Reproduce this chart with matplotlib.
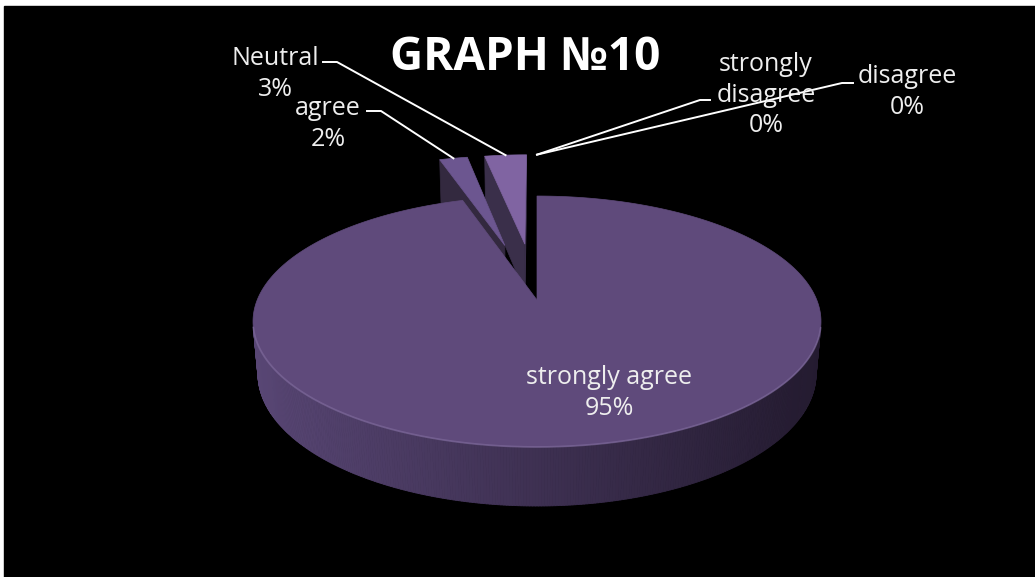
import numpy as np
import matplotlib
matplotlib.use("Agg")
import matplotlib.pyplot as plt
from matplotlib.patches import Polygon, Rectangle
from matplotlib.collections import PolyCollection

# ---- data -------------------------------------------------------------
categories = ["strongly agree", "agree", "Neutral", "strongly disagree", "disagree"]
label_names = ["strongly agree", "agree", "Neutral", "strongly\ndisagree", "disagree"]
values = [95, 2, 3, 0, 0]
explode = [0.0, 0.5, 0.5, 0.5, 0.5]
title = "GRAPH \u211610"

# ---- style ------------------------------------------------------------
top_colors = ["#5F4A7B", "#6C5690", "#8064A2", "#8064A2", "#8064A2"]
wall_colors = ["#3A2E4C", "#33293F", "#3A2F4A", "#3A2F4A", "#3A2F4A"]
side_left = np.array([88, 70, 116]) / 255
side_right = np.array([36, 27, 48]) / 255
text_color = "#EEEEEE"
FONT = ["Open Sans", "DejaVu Sans"]

# label layout: text centre, leader elbow (start, bend) in pixels
label_pos = [(609, 393), (328, 124), (275, 74), (766, 95), (907, 92)]
leader_elbow = [None, ((367, 111), (381, 111)), ((323, 62), (337, 62)),
                ((710, 100), (700, 100)), ((853, 83), (842, 83))]

W, H = 1035, 577
fig = plt.figure(figsize=(W / 100, H / 100), dpi=100, facecolor="white")
ax = fig.add_axes([0, 0, 1, 1])
ax.set_xlim(0, W)
ax.set_ylim(H, 0)
ax.axis("off")
ax.add_patch(Rectangle((4, 6), W, H, color="black", zorder=0))

# ---- perspective camera for the tilted pie ----------------------------
CX, CY = 537, 300
SIN_E, COS_E = 0.4353, 0.9003
DIST = 5.256
FOCAL = 1470.6
THICK = 0.2083
CAM = np.array([0.0, -DIST * COS_E, DIST * SIN_E])


def project(x, y, z):
    x = np.asarray(x, float)
    y = np.asarray(y, float)
    z = np.asarray(z, float) + 0 * x
    depth = DIST + y * COS_E - z * SIN_E
    up = y * SIN_E + z * COS_E
    return CX + FOCAL * x / depth, CY - FOCAL * up / depth


def facing(normal, point):
    return np.dot(normal, CAM - point) > 0


total = float(sum(values))
fractions = [v / total for v in values]
starts = np.concatenate([[0.0], np.cumsum(fractions)[:-1]]) * 2 * np.pi

slices = []
for i, frac in enumerate(fractions):
    th1 = starts[i]
    th2 = th1 + frac * 2 * np.pi
    mid = 0.5 * (th1 + th2)
    off = explode[i] * np.array([np.sin(mid), np.cos(mid)])
    slices.append((i, th1, th2, off))


# farther slices are painted first
def slice_depth(s):
    i, th1, th2, off = s
    mid = 0.5 * (th1 + th2)
    return off[1] + 0.5 * np.cos(mid)


z = 1
for i, th1, th2, off in sorted(slices, key=slice_depth, reverse=True):
    if th2 - th1 <= 0:
        continue
    ox, oy = off
    n = max(int((th2 - th1) / (2 * np.pi) * 720), 8)
    arc = np.linspace(th1, th2, n)
    ax_, ay_ = ox + np.sin(arc), oy + np.cos(arc)

    # curved outer side, shaded across the width
    vis = []
    for t in arc:
        nrm = np.array([np.sin(t), np.cos(t), 0.0])
        p = np.array([ox + np.sin(t), oy + np.cos(t), 0.0])
        vis.append(facing(nrm, p))
    vis = np.array(vis)
    if vis.any():
        tx, ty = project(ax_, ay_, 0.0)
        bx, by = project(ax_, ay_, -THICK)
        quads, cols = [], []
        for k in range(n - 1):
            if not (vis[k] or vis[k + 1]):
                continue
            quads.append([(tx[k], ty[k]), (tx[k + 1], ty[k + 1]),
                          (bx[k + 1], by[k + 1]), (bx[k], by[k])])
            f = np.clip(((tx[k] + tx[k + 1]) / 2 - (CX - 284)) / 568, 0, 1)
            cols.append(tuple(side_left * (1 - f) + side_right * f))
        pc = PolyCollection(quads, facecolors=cols, edgecolors=cols,
                            linewidths=0.6, zorder=z)
        ax.add_collection(pc)
        z += 1

    # radial cut walls
    for th, nrm in ((th1, np.array([-np.cos(th1), np.sin(th1), 0.0])),
                    (th2, np.array([np.cos(th2), -np.sin(th2), 0.0]))):
        apex = np.array([ox, oy, 0.0])
        if facing(nrm, apex + 0.5 * np.array([np.sin(th), np.cos(th), 0.0])):
            wx = [ox, ox + np.sin(th), ox + np.sin(th), ox]
            wy = [oy, oy + np.cos(th), oy + np.cos(th), oy]
            wz = [0, 0, -THICK, -THICK]
            px, py = project(wx, wy, wz)
            ax.add_patch(Polygon(np.column_stack([px, py]), closed=True,
                                 facecolor=wall_colors[i], edgecolor=wall_colors[i],
                                 linewidth=0.5, zorder=z))
            z += 1

    # top face
    fx = np.concatenate([[ox], ax_])
    fy = np.concatenate([[oy], ay_])
    px, py = project(fx, fy, 0.0)
    ax.add_patch(Polygon(np.column_stack([px, py]), closed=True,
                         facecolor=top_colors[i], edgecolor=top_colors[i],
                         linewidth=0.5, zorder=z))
    z += 1

    # soft highlight on the front rim of the top face
    if vis.any():
        hx, hy = project(ax_[vis], ay_[vis], 0.0)
        ax.plot(hx, hy, color="#8A76A8", lw=1.3, alpha=0.5,
                solid_capstyle="round", zorder=z)
        z += 1

# ---- labels -----------------------------------------------------------
for i, (name, v) in enumerate(zip(label_names, values)):
    pct = f"{round(100 * v / total)}%"
    lx, ly = label_pos[i]
    ax.text(lx, ly, f"{name}\n{pct}", ha="center", va="center",
            color=text_color, fontsize=18, family=FONT,
            linespacing=1.3, zorder=50)
    if leader_elbow[i] is not None:
        i_, th1, th2, off = slices[i]
        mid = 0.5 * (th1 + th2)
        anchor_x, anchor_y = project(off[0] + np.sin(mid), off[1] + np.cos(mid), 0.0)
        (sx, sy), (bx_, by_) = leader_elbow[i]
        ax.plot([sx, bx_, float(anchor_x)], [sy, by_, float(anchor_y)],
                color="white", lw=1.4, zorder=49)

ax.text(525, 58, title, ha="center", va="center", color="white",
        fontsize=33, fontweight="bold", family=FONT, zorder=50)

fig.savefig("out.png", dpi=100, facecolor=fig.get_facecolor())
